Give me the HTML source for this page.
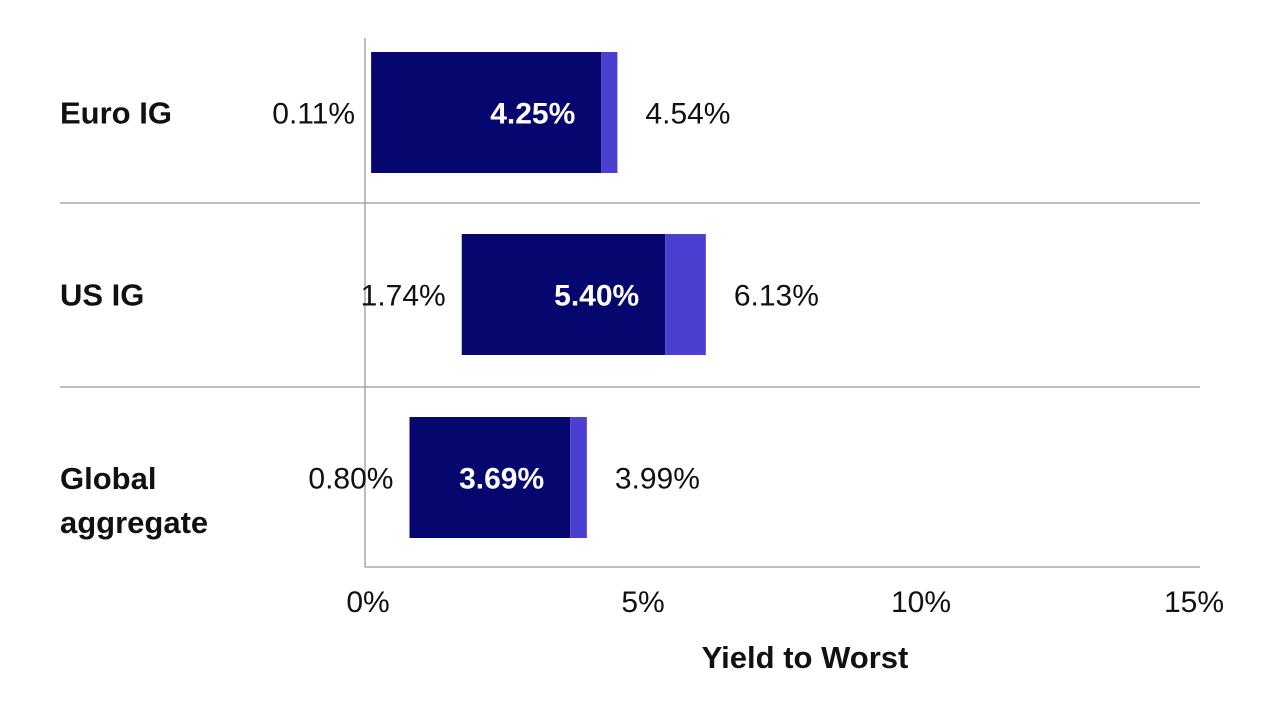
<!DOCTYPE html>
<html><head><meta charset="utf-8"><style>
html,body{margin:0;padding:0;background:#fff;}
svg{display:block;font-family:"Liberation Sans",sans-serif;}
</style></head><body>
<svg id="chart" width="1280" height="720">
<g id="grid"></g><g id="bars"></g><g id="labels"></g>
</svg>
<script>
const categories=["Euro IG","US IG","Global aggregate"];
const minVals=[0.11,1.74,0.80];
const curVals=[4.25,5.40,3.69];
const maxVals=[4.54,6.13,3.99];
const ticks=[0,5,10,15];
const NS="http://www.w3.org/2000/svg";
const svg=document.getElementById('chart');
const x=v=>365+v*55.6;
const rowTop=[52,234,417], barH=121;
function mk(tag,attrs,parent,text){const e=document.createElementNS(NS,tag);for(const k in attrs)e.setAttribute(k,attrs[k]);if(text!==undefined)e.textContent=text;parent.appendChild(e);return e;}
const g=document.getElementById('grid'),b=document.getElementById('bars'),l=document.getElementById('labels');
[203,387].forEach(y=>{const e=mk('line',{x1:60,x2:1200,y1:y,y2:y,stroke:'#999','stroke-width':1.3},g);

});
let ax=mk('line',{x1:365,x2:1200,y1:567,y2:567,stroke:'#999','stroke-width':1.3},g);


let vx=mk('line',{x1:365,x2:365,y1:38,y2:567,stroke:'#999','stroke-width':1.3},g);


ticks.forEach(t=>{const e=mk('text',{x:x(t)+(t===15?-5:t===0?3:0),y:612,'font-size':30,'text-anchor':'middle',fill:'#111'},l,t+'%');

});
let at=mk('text',{x:805,y:668,'font-size':31,'font-weight':'bold','text-anchor':'middle',fill:'#111'},l,'Yield to Worst');


categories.forEach((c,i)=>{
 const y0=rowTop[i],cy=y0+barH/2+11;
 const d=mk('rect',{x:x(minVals[i]),y:y0,width:x(curVals[i])-x(minVals[i]),height:barH,fill:'#06066f'},b);
 
 
 const lt=mk('rect',{x:x(curVals[i]),y:y0,width:x(maxVals[i])-x(curVals[i]),height:barH,fill:'#4a3fd1'},b);
 
 
 const mn=mk('text',{x:x(minVals[i])-16,y:cy,'font-size':30,'text-anchor':'end',fill:'#111'},l,minVals[i].toFixed(2)+'%');
 
 
 const mx=mk('text',{x:x(maxVals[i])+28,y:cy,'font-size':30,fill:'#111'},l,maxVals[i].toFixed(2)+'%');
 
 
 const cu=mk('text',{x:x(curVals[i])-26,y:cy,'font-size':30,'font-weight':'bold','text-anchor':'end',fill:'#fff'},l,curVals[i].toFixed(2)+'%');
 
 
 const words=c==="Global aggregate"?["Global","aggregate"]:[c];
 words.forEach((w,j)=>{const t=mk('text',{x:60,y:(words.length>1?y0+72+j*44:cy),'font-size':31,'font-weight':'bold',fill:'#111'},l,w);
 
 });
});
</script>
</body></html>
